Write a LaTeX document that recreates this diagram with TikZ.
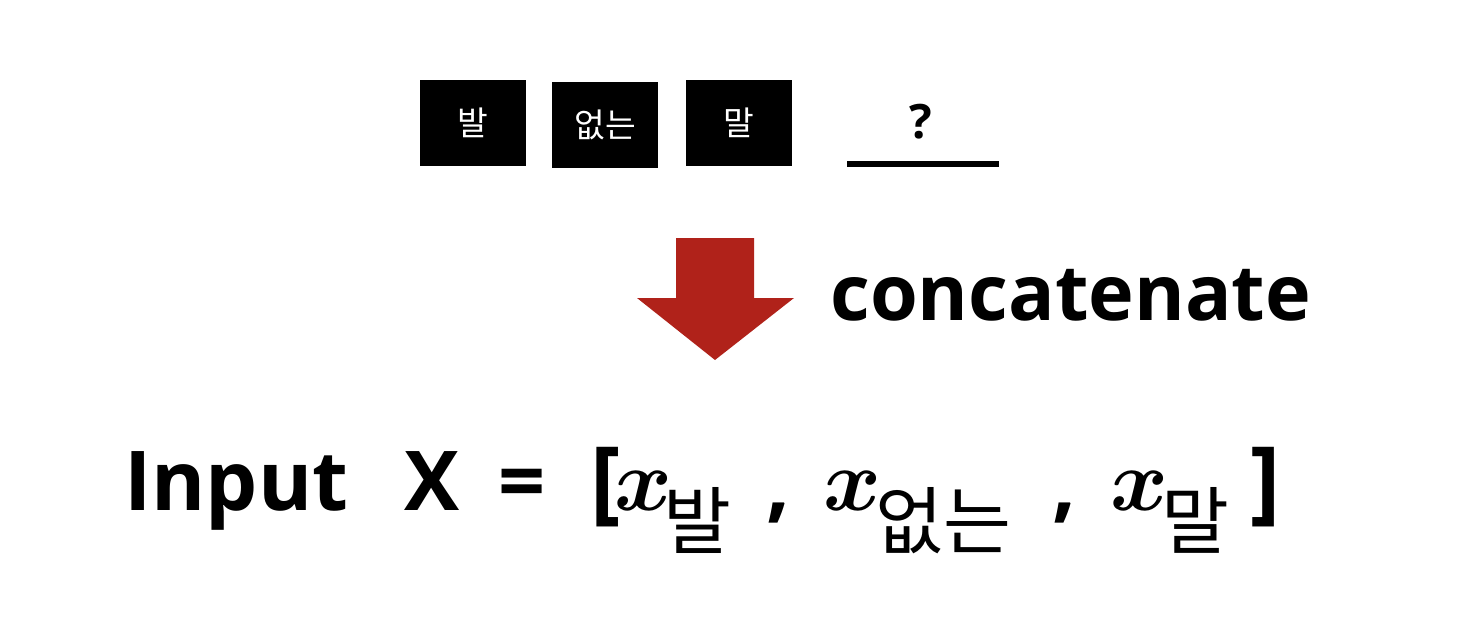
\documentclass[tikz,border=0pt]{standalone}
\usepackage{fontspec}
\setmainfont{Open Sans}
\newfontfamily\kr{Noto Sans CJK KR}
\newfontfamily\mathxfont{Latin Modern Math}
\usetikzlibrary{positioning}
\definecolor{arrowred}{HTML}{B0221A}

\begin{document}
\begin{tikzpicture}[x=0.02cm, y=-0.02cm,
  tok/.style={fill=black, text=white, minimum width=2.12cm, minimum height=1.72cm, inner sep=0pt, font=\kr\fontsize{19}{19}\selectfont},
  big/.style={font=\fontsize{47}{47}\selectfont\bfseries, anchor=base west, inner sep=0pt},
  vec/.style={font=\mathxfont\fontsize{50}{50}\selectfont, anchor=base west, inner sep=0pt},
  sub/.style={font=\kr\fontsize{42}{42}\selectfont, anchor=base west, inner sep=0pt}]
\useasboundingbox (0,0) rectangle (1478,632);

% Tokens
\node[tok] (w1) at (473,123) {발};
\node[tok] (w2) at (605,125) {없는};
\node[tok] (w3) at (739,123) {말};
\node[font=\fontsize{27}{27}\selectfont\bfseries] (q) at (921,122) {?};
\coordinate (blankL) at (847,164);
\coordinate (blankR) at (999,164);
\draw[line width=3.4pt] (blankL) -- (blankR);

% Arrow
\fill[arrowred] (676,238) -- (754,238) -- (754,298) -- (794,298) -- (715,360)
  -- (637,298) -- (676,298) -- cycle;
\node[big, font=\fontsize{44}{44}\selectfont\bfseries] (concat) at (830,320) {concatenate};

% Input vector
\node[big] (inp) at (124,510) {Input};
\node[big] (X) at (404,510) {X};
\node[big] (eq) at (498,510) {=};
\node[big, font=\fontsize{52}{52}\selectfont\bfseries] (lb) at (590,512) {[};
\node[vec] (x1) at (614,510) {𝒙};
\node[sub] (s1) at (663,548) {발};
\node[big] (c1) at (766,512) {,};
\node[vec] (x2) at (823,510) {𝒙};
\node[sub] (s2) at (875,548) {없는};
\node[big] (c2) at (1052,512) {,};
\node[vec] (x3) at (1110,510) {𝒙};
\node[sub] (s3) at (1161,548) {말};
\node[big, font=\fontsize{52}{52}\selectfont\bfseries] (rb) at (1250,512) {]};
\end{tikzpicture}
\end{document}
